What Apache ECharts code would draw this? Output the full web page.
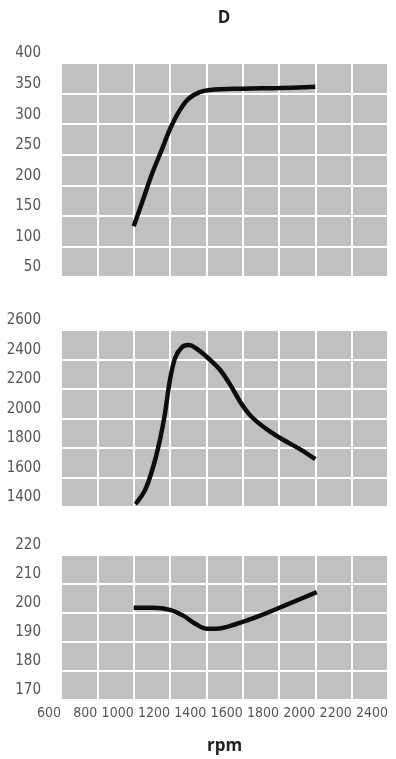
<!DOCTYPE html>
<html>
<head>
<meta charset="utf-8">
<script src="https://cdn.jsdelivr.net/npm/echarts@6/dist/echarts.min.js"></script>
<style>
  html, body { margin: 0; padding: 0; background: #fff; }
  #chart { width: 396px; height: 759px; }
</style>
</head>
<body>
<div id="chart"></div>
<script>
// Engine curves plotted against speed (rpm)
const rpmTicks = [600, 800, 1000, 1200, 1400, 1600, 1800, 2000, 2200, 2400];

// Upper panel: power
const powerRpm = [1000, 1050, 1100, 1160, 1200, 1250, 1300, 1360, 1420, 1600, 1800, 2000];
const powerVal = [133, 175, 218, 262, 292, 321, 341, 352, 356, 358, 359, 361];

// Middle panel: torque
const torqueRpm = [1010, 1063, 1108, 1145, 1173, 1197, 1228, 1265, 1302, 1357, 1421, 1476, 1531, 1586, 1632, 1678, 1751, 1825, 1917, 2000];
const torqueVal = [1420, 1516, 1675, 1858, 2039, 2242, 2411, 2483, 2498, 2464, 2397, 2329, 2230, 2114, 2035, 1979, 1911, 1854, 1791, 1724];

// Lower panel: specific fuel consumption
const fuelRpm = [1000, 1108, 1200, 1273, 1339, 1403, 1458, 1568, 1696, 1843, 2008];
const fuelVal = [201.8, 201.8, 201.1, 199.1, 196.3, 194.6, 194.6, 196.3, 199.1, 202.9, 207.2];

const LABEL_FONT = '"Liberation Sans Narrow", "DejaVu Sans Condensed", sans-serif';
const TITLE_FONT = 'Open Sans';
const plotBg = '#bfc0c2';
const labelColor = '#555555';

const pairs = (xs, ys) => xs.map((x, i) => [x, ys[i]]);
const plain = v => String(v);

const grids = [
  { left: 61, width: 327, top: 63, height: 214 },
  { left: 61, width: 327, top: 330, height: 177 },
  { left: 61, width: 327, top: 555, height: 145 }
].map(g => Object.assign(g, { show: true, backgroundColor: plotBg, borderWidth: 0 }));

function xAxisFor(idx, showLabels) {
  return {
    type: 'value', gridIndex: idx,
    min: rpmTicks[0], max: rpmTicks[rpmTicks.length - 1], interval: 200,
    axisLine: { show: false }, axisTick: { show: false },
    splitLine: { show: true, lineStyle: { color: '#ffffff', width: 2 } },
    axisLabel: {
      show: showLabels, align: 'right', margin: 6, formatter: plain,
      fontFamily: LABEL_FONT, fontSize: 14, color: labelColor
    },
    name: showLabels ? 'rpm' : '',
    nameLocation: 'middle', nameGap: 38,
    nameTextStyle: { fontFamily: TITLE_FONT, fontSize: 17, fontWeight: 'bold', color: '#222' }
  };
}

function yAxisFor(idx, min, max, step) {
  return {
    type: 'value', gridIndex: idx, min: min, max: max, interval: step,
    axisLine: { show: false }, axisTick: { show: false },
    splitLine: { show: true, lineStyle: { color: '#ffffff', width: 2 } },
    axisLabel: {
      formatter: plain,
      fontFamily: LABEL_FONT, fontSize: 15, color: labelColor,
      verticalAlign: 'bottom', margin: 20, padding: [0, 0, 2, 0]
    }
  };
}

function curve(idx, xs, ys) {
  return {
    type: 'line', xAxisIndex: idx, yAxisIndex: idx,
    data: pairs(xs, ys), smooth: 0.35, showSymbol: false,
    lineStyle: { color: '#0d0d0d', width: 4.5 },
    silent: true, animation: false
  };
}

const chart = echarts.init(document.getElementById('chart'), null, { renderer: 'canvas' });
chart.setOption({
  animation: false,
  grid: grids,
  xAxis: [xAxisFor(0, false), xAxisFor(1, false), xAxisFor(2, true)],
  yAxis: [yAxisFor(0, 50, 400, 50), yAxisFor(1, 1400, 2600, 200), yAxisFor(2, 170, 220, 10)],
  graphic: [{
    type: 'text', x: 224, y: 18,
    style: {
      text: 'D', fontFamily: TITLE_FONT, fontSize: 17, fontWeight: 'bold', fill: '#222',
      textAlign: 'center', textVerticalAlign: 'middle'
    }
  }],
  series: [
    curve(0, powerRpm, powerVal),
    curve(1, torqueRpm, torqueVal),
    curve(2, fuelRpm, fuelVal)
  ]
});
</script>
</body>
</html>
